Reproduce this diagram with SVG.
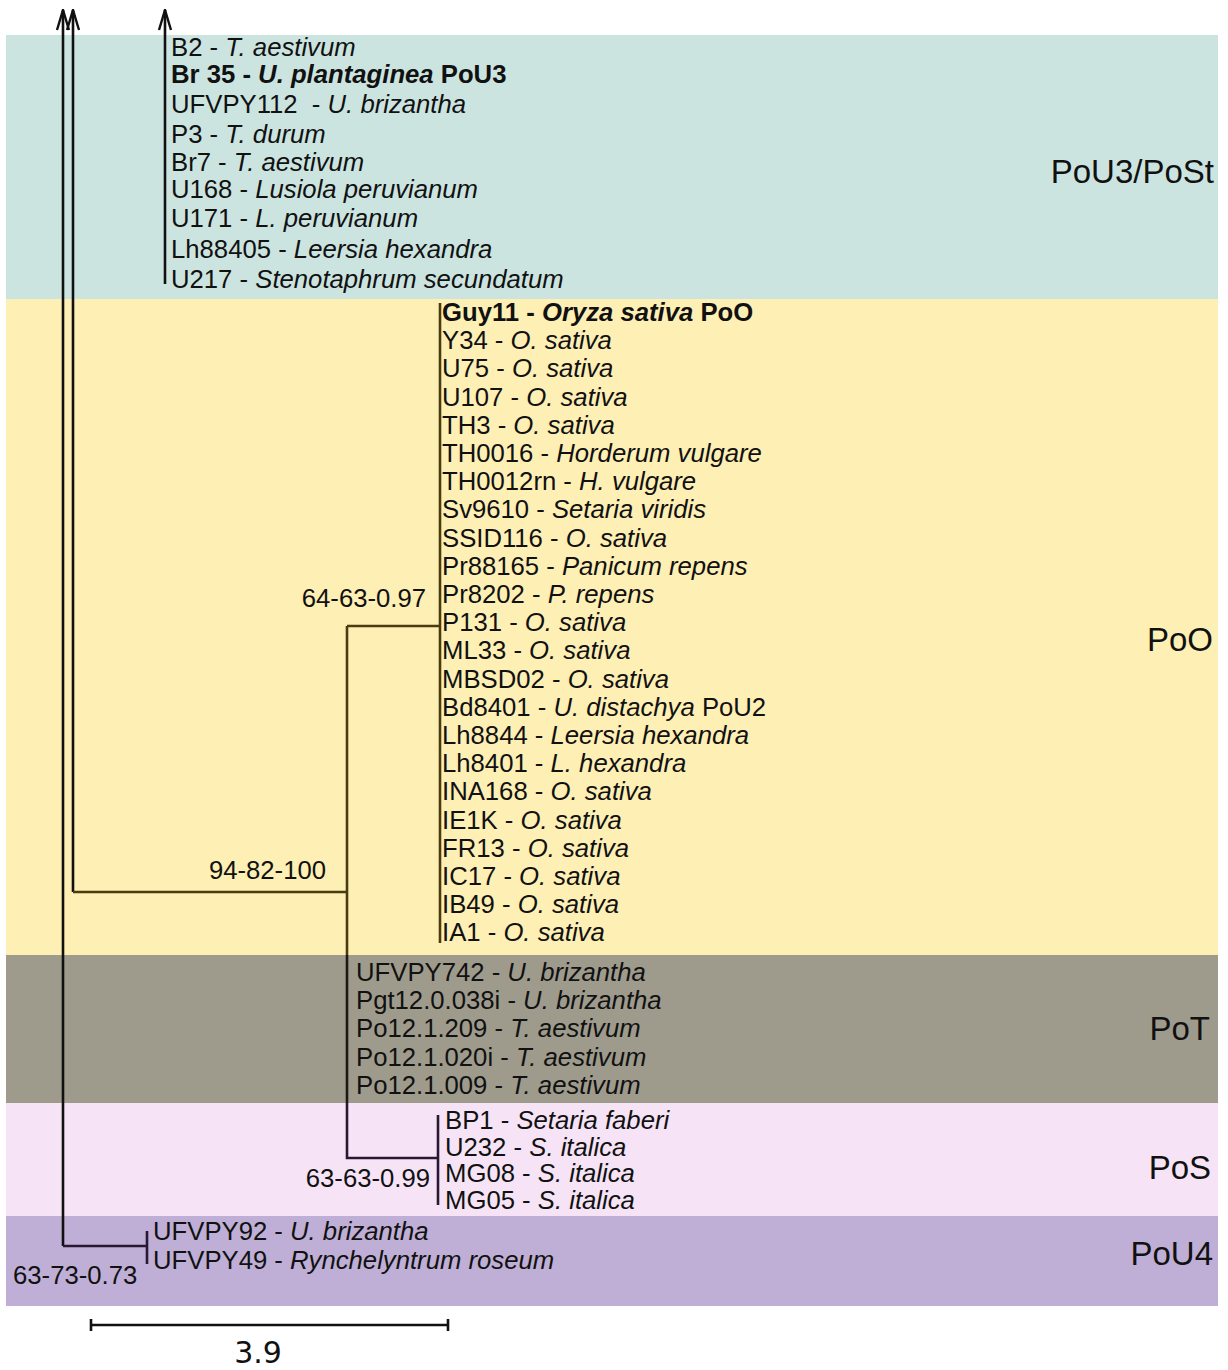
<svg xmlns="http://www.w3.org/2000/svg" width="1228" height="1370" viewBox="0 0 1228 1370">
<style>
text{font-family:"Liberation Sans",Arial,sans-serif;font-size:25.7px;fill:#111;white-space:pre}
.i{font-style:italic}
.b{font-weight:bold}
.grp{font-size:33px}
.scale{font-family:"DejaVu Sans",sans-serif;font-size:30px}
.ln{fill:none;stroke-width:2.6;stroke-linecap:butt}
.k{stroke:#111}
.o{stroke:#4a3c0e}
.p{stroke:#2a1733}
.t{stroke:#1b1a12}
</style>
<defs>
<marker id="open" viewBox="0 0 22 16" refX="21" refY="8" markerWidth="22" markerHeight="16" markerUnits="userSpaceOnUse" orient="auto">
<path d="M1,2 L21,8 L1,14" fill="none" stroke="#111" stroke-width="2.4"/>
</marker>
</defs>
<g id="bands">
<rect x="6" y="35" width="1212" height="264" fill="#cce4e0"/>
<rect x="6" y="299" width="1212" height="656" fill="#feefb5"/>
<rect x="6" y="955" width="1212" height="148" fill="#9e9b8d"/>
<rect x="6" y="1103" width="1212" height="113" fill="#f6e4f6"/>
<rect x="6" y="1216" width="1212" height="90" fill="#bfafd6"/>
</g>
<g id="connectors">
<path class="ln k" d="M63,1246 V10" marker-end="url(#open)"/>
<path class="ln k" d="M73,892 V10" marker-end="url(#open)"/>
<path class="ln k" d="M165,284 V10" marker-end="url(#open)"/>
<path class="ln p" d="M63,1246 H147"/>
<path class="ln p" d="M147,1231 V1264"/>
<path class="ln o" d="M73,892 H347"/>
<path class="ln o" d="M347,626 V955"/>
<path class="ln t" d="M347,955 V1103"/>
<path class="ln p" d="M347,1103 V1158 H438"/>
<path class="ln o" d="M347,626 H440"/>
<path class="ln o" d="M440,303 V943"/>
<path class="ln p" d="M438,1115 V1205"/>
</g>
<g id="support-values">
<text x="426" y="607" text-anchor="end">64-63-0.97</text>
<text x="326" y="879" text-anchor="end">94-82-100</text>
<text x="430" y="1187" text-anchor="end">63-63-0.99</text>
<text x="13" y="1284">63-73-0.73</text>
</g>
<g id="clade-PoU3-PoSt">
<text x="171" y="56">B2 - <tspan class="i">T. aestivum</tspan></text>
<text x="171" y="83" class="b">Br 35 - <tspan class="i">U. plantaginea</tspan> PoU3</text>
<text x="171" y="113">UFVPY112  - <tspan class="i">U. brizantha</tspan></text>
<text x="171" y="143">P3 - <tspan class="i">T. durum</tspan></text>
<text x="171" y="171">Br7 - <tspan class="i">T. aestivum</tspan></text>
<text x="171" y="198">U168 - <tspan class="i">Lusiola peruvianum</tspan></text>
<text x="171" y="227">U171 - <tspan class="i">L. peruvianum</tspan></text>
<text x="171" y="258">Lh88405 - <tspan class="i">Leersia hexandra</tspan></text>
<text x="171" y="288">U217 - <tspan class="i">Stenotaphrum secundatum</tspan></text>
<text class="grp" x="1214" y="183" text-anchor="end">PoU3/PoSt</text>
</g>
<g id="clade-PoO">
<text x="442" y="321" class="b">Guy11 - <tspan class="i">Oryza sativa</tspan> PoO</text>
<text x="442" y="349.2">Y34 - <tspan class="i">O. sativa</tspan></text>
<text x="442" y="377.4">U75 - <tspan class="i">O. sativa</tspan></text>
<text x="442" y="405.6">U107 - <tspan class="i">O. sativa</tspan></text>
<text x="442" y="433.8">TH3 - <tspan class="i">O. sativa</tspan></text>
<text x="442" y="462">TH0016 - <tspan class="i">Horderum vulgare</tspan></text>
<text x="442" y="490.2">TH0012rn - <tspan class="i">H. vulgare</tspan></text>
<text x="442" y="518.4">Sv9610 - <tspan class="i">Setaria viridis</tspan></text>
<text x="442" y="546.6">SSID116 - <tspan class="i">O. sativa</tspan></text>
<text x="442" y="574.8">Pr88165 - <tspan class="i">Panicum repens</tspan></text>
<text x="442" y="603">Pr8202 - <tspan class="i">P. repens</tspan></text>
<text x="442" y="631.2">P131 - <tspan class="i">O. sativa</tspan></text>
<text x="442" y="659.4">ML33 - <tspan class="i">O. sativa</tspan></text>
<text x="442" y="687.6">MBSD02 - <tspan class="i">O. sativa</tspan></text>
<text x="442" y="715.8">Bd8401 - <tspan class="i">U. distachya</tspan> PoU2</text>
<text x="442" y="744">Lh8844 - <tspan class="i">Leersia hexandra</tspan></text>
<text x="442" y="772.2">Lh8401 - <tspan class="i">L. hexandra</tspan></text>
<text x="442" y="800.4">INA168 - <tspan class="i">O. sativa</tspan></text>
<text x="442" y="828.6">IE1K - <tspan class="i">O. sativa</tspan></text>
<text x="442" y="856.8">FR13 - <tspan class="i">O. sativa</tspan></text>
<text x="442" y="885">IC17 - <tspan class="i">O. sativa</tspan></text>
<text x="442" y="913.2">IB49 - <tspan class="i">O. sativa</tspan></text>
<text x="442" y="941.4">IA1 - <tspan class="i">O. sativa</tspan></text>
<text class="grp" x="1213" y="651" text-anchor="end">PoO</text>
</g>
<g id="clade-PoT">
<text x="356" y="981">UFVPY742 - <tspan class="i">U. brizantha</tspan></text>
<text x="356" y="1009">Pgt12.0.038i - <tspan class="i">U. brizantha</tspan></text>
<text x="356" y="1037">Po12.1.209 - <tspan class="i">T. aestivum</tspan></text>
<text x="356" y="1066">Po12.1.020i - <tspan class="i">T. aestivum</tspan></text>
<text x="356" y="1094">Po12.1.009 - <tspan class="i">T. aestivum</tspan></text>
<text class="grp" x="1210" y="1040" text-anchor="end">PoT</text>
</g>
<g id="clade-PoS">
<text x="445" y="1129">BP1 - <tspan class="i">Setaria faberi</tspan></text>
<text x="445" y="1156">U232 - <tspan class="i">S. italica</tspan></text>
<text x="445" y="1182">MG08 - <tspan class="i">S. italica</tspan></text>
<text x="445" y="1209">MG05 - <tspan class="i">S. italica</tspan></text>
<text class="grp" x="1211" y="1179" text-anchor="end">PoS</text>
</g>
<g id="clade-PoU4">
<text x="153" y="1240">UFVPY92 - <tspan class="i">U. brizantha</tspan></text>
<text x="153" y="1269">UFVPY49 - <tspan class="i">Rynchelyntrum roseum</tspan></text>
<text class="grp" x="1213" y="1265" text-anchor="end">PoU4</text>
</g>
<g id="scale-bar">
<path class="ln k" d="M91,1325 H448 M91,1319 V1331 M448,1319 V1331"/>
<text class="scale" x="258" y="1363" text-anchor="middle">3.9</text>
</g>
</svg>
